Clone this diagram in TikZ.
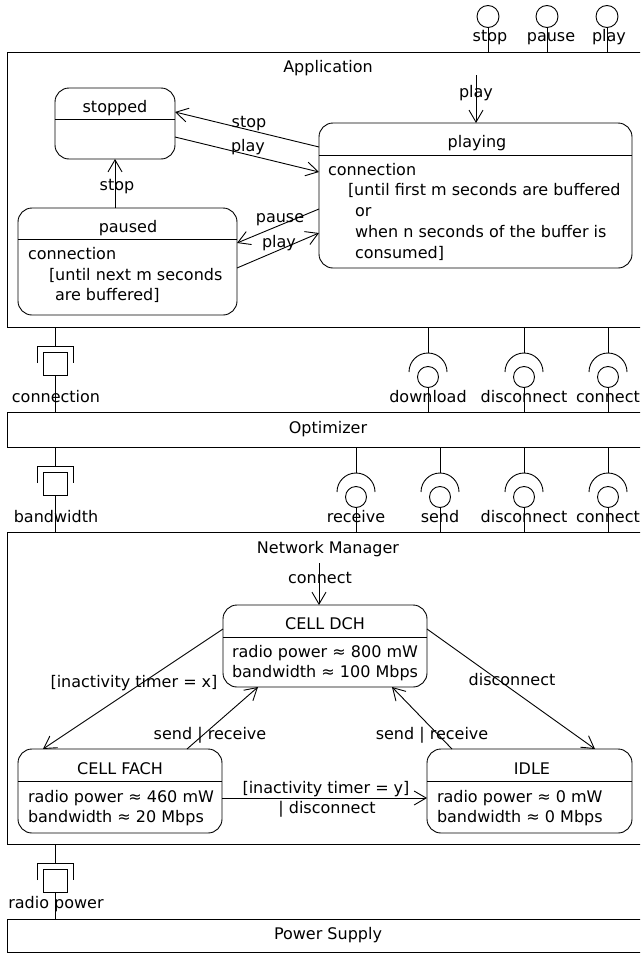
\documentclass[tikz,border=0pt]{standalone}
\usepackage{fontspec}
\setmainfont{DejaVu Sans}
\usetikzlibrary{arrows.meta}
\newcommand\provif[5]{% name, x, top, bottom, label
  \coordinate (#1top) at (#2,#3);
  \coordinate (#1apex) at (#2,#3+26);
  \draw (#1top) -- (#1apex);
  \draw (#2,#3+45) ++(180:19) arc[start angle=180,end angle=360,radius=19];
  \node[ball] (#1ball) at (#2,#3+50) {};
  \coordinate (#1bot) at (#2,#4);
  \draw (#1ball.south) -- (#1bot);
  \node[txt] (#1lab) at (#2,#3+75) {#5};
}
\newcommand\reqif[6]{% name, x, top, bottom, label base, label
  \coordinate (#1top) at (#2,#3);
  \coordinate (#1br) at (#2,#3+19);
  \draw (#1top) -- (#1br);
  \draw (#2-18,#3+36) -- (#2-18,#3+19) -- (#2+18,#3+19) -- (#2+18,#3+36);
  \node[sq] (#1sq) at (#2,#3+36.5) {};
  \coordinate (#1bot) at (#2,#4);
  \draw (#1sq.south) -- (#1bot);
  \node[txt] (#1lab) at (#2+1,#5) {#6};
}
\begin{document}
\begin{tikzpicture}[x=1pt,y=-1pt,line width=0.9pt,
  every node/.style={font=\fontsize{16}{19}\selectfont, inner sep=0pt, outer sep=0pt},
  txt/.style={anchor=base},
  ltxt/.style={anchor=base west},
  box/.style={draw, anchor=north west, minimum width=643pt},
  state/.style={draw, rounded corners=14pt},
  ball/.style={draw, circle, minimum size=21pt},
  sq/.style={draw, minimum width=24pt, minimum height=23pt},
  trans/.style={-{Straight Barb[length=12pt,width=14pt]}},
]
\useasboundingbox (0,0) rectangle (640,953);
\clip (0,0) rectangle (640,953);

% ---------- outer components ----------
\node[box, minimum height=275pt] (app) at (7,52) {};
\node[txt] (apptitle) at (328,72) {Application};
\node[box, minimum height=35pt] (opt) at (7,412) {};
\node[txt] (opttitle) at (328,433) {Optimizer};
\node[box, minimum height=312pt] (nm) at (7,532) {};
\node[txt] (nmtitle) at (328,553) {Network Manager};
\node[box, minimum height=33pt] (ps) at (7,919) {};
\node[txt] (pstitle) at (328,939) {Power Supply};

% ---------- top provided interfaces ----------
\foreach \n/\x/\lx/\t in {istop/488/490/stop, ipause/547/551/pause, iplay/607/609/play}{
  \node[draw, circle, minimum size=22pt] (\n ball) at (\x,16.5) {};
  \coordinate (\n bot) at (\x,52);
  \draw (\n ball.south) -- (\n bot);
  \node[txt] (\n lab) at (\lx,41) {\t};
}

% ---------- Application states ----------
\node[state, minimum width=120pt, minimum height=71pt] (stopped) at (115,123.5) {};
\draw (stopped.west |- 0,119) -- (stopped.east |- 0,119);
\node[txt] (stoppedt) at (115,112) {stopped};

\node[state, minimum width=313pt, minimum height=145pt] (playing) at (475.5,195.5) {};
\draw (playing.west |- 0,155) -- (playing.east |- 0,155);
\node[txt] (playingt) at (477,147) {playing};
\node[ltxt] (pl1) at (328,175) {connection};
\node[ltxt] (pl2) at (348,195) {[until first m seconds are buffered};
\node[ltxt] (pl3) at (355,216) {or};
\node[ltxt] (pl4) at (355,237) {when n seconds of the buffer is};
\node[ltxt] (pl5) at (355,258) {consumed]};

\node[state, minimum width=219pt, minimum height=107pt] (paused) at (127.5,261.5) {};
\draw (paused.west |- 0,239) -- (paused.east |- 0,239);
\node[txt] (pausedt) at (128,232) {paused};
\node[ltxt] (pa1) at (28,259) {connection};
\node[ltxt] (pa2) at (49,280) {[until next m seconds};
\node[ltxt] (pa3) at (55,300) {are buffered]};

% ---------- Application transitions ----------
\coordinate (playinit) at (476,75);
\draw[trans] (playinit) -- (playing.north -| playinit);
\node[txt] (playinitl) at (476,97) {play};
\draw[trans] (stopped.east |- 0,137) -- (playing.west |- 0,172);
\node[txt] (spl) at (248,151) {play};
\draw[trans] (playing.west |- 0,147) -- (stopped.east |- 0,112);
\node[txt] (pst) at (249,127) {stop};
\draw[trans] (playing.west |- 0,209) -- (paused.east |- 0,243);
\node[txt] (ppa) at (280,222) {pause};
\draw[trans] (paused.east |- 0,268) -- (playing.west |- 0,233);
\node[txt] (papl) at (279,247) {play};
\draw[trans] (stopped.south |- paused.north) -- (stopped.south);
\node[txt] (pas) at (117,190) {stop};

% ---------- interfaces App / Optimizer ----------
\reqif{rconn}{55}{327}{412}{402}{connection}
\provif{pdown}{428}{327}{412}{download}
\provif{pdisc}{524}{327}{412}{disconnect}
\provif{pconn}{608}{327}{412}{connect}

% ---------- interfaces Optimizer / Network Manager ----------
\reqif{rbw}{55}{447}{532}{522}{bandwidth}
\provif{nrecv}{356}{447}{532}{receive}
\provif{nsend}{440}{447}{532}{send}
\provif{ndisc}{524}{447}{532}{disconnect}
\provif{nconn}{608}{447}{532}{connect}

% ---------- Network Manager states ----------
\node[state, minimum width=204pt, minimum height=82pt] (dch) at (325,646) {};
\draw (dch.west |- 0,637) -- (dch.east |- 0,637);
\node[txt] (dcht) at (325,629) {CELL DCH};
\node[ltxt] (dch1) at (232,657) {radio power ≈ 800 mW};
\node[ltxt] (dch2) at (232,677) {bandwidth ≈ 100 Mbps};

\node[state, minimum width=204pt, minimum height=84pt] (fach) at (120,791) {};
\draw (fach.west |- 0,781) -- (fach.east |- 0,781);
\node[txt] (facht) at (120,774) {CELL FACH};
\node[ltxt] (fach1) at (28,802) {radio power ≈ 460 mW};
\node[ltxt] (fach2) at (28,822) {bandwidth ≈ 20 Mbps};

\node[state, minimum width=205pt, minimum height=84pt] (idle) at (529.5,791) {};
\draw (idle.west |- 0,781) -- (idle.east |- 0,781);
\node[txt] (idlet) at (532,774) {IDLE};
\node[ltxt] (idle1) at (437,802) {radio power ≈ 0 mW};
\node[ltxt] (idle2) at (437,822) {bandwidth ≈ 0 Mbps};

% ---------- Network Manager transitions ----------
\coordinate (connstart) at (319,563);
\draw[trans] (connstart) -- (dch.north -| connstart);
\node[txt] (connl) at (320,583) {connect};
\draw[trans] (dch.west |- 0,629) -- (fach.north -| 43,0);
\node[txt] (itx) at (134,687) {[inactivity timer = x]};
\draw[trans] (fach.north -| 187,0) -- (dch.south -| 258,0);
\node[txt] (sr1) at (210,739) {send | receive};
\draw[trans] (dch.east |- 0,629) -- (idle.north -| 595,0);
\node[txt] (discl) at (512,685) {disconnect};
\draw[trans] (idle.north -| 452,0) -- (dch.south -| 392,0);
\node[txt] (sr2) at (432,739) {send | receive};
\draw[trans] (fach.east |- 0,798) -- (idle.west |- 0,798);
\node[txt] (ity) at (326,793) {[inactivity timer = y]};
\node[txt] (itd) at (327,813) {| disconnect};

% ---------- interface Network Manager / Power Supply ----------
\reqif{rpow}{55}{844}{919}{908}{radio power}
\end{tikzpicture}
\end{document}
